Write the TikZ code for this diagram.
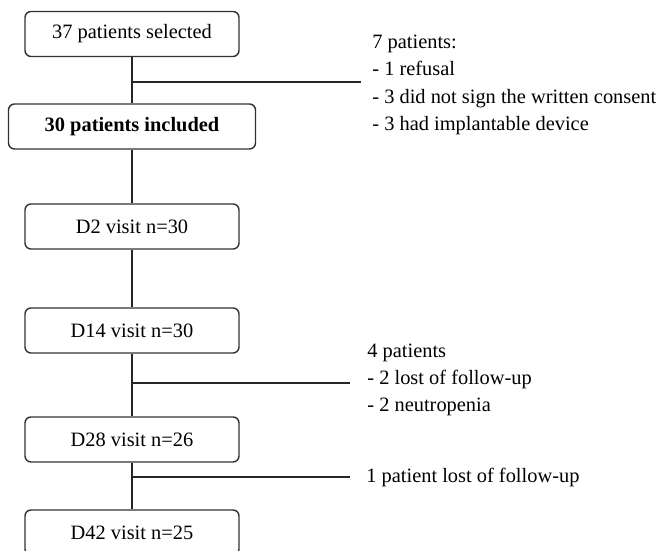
\documentclass[tikz,border=0pt]{standalone}
\usepackage{fontspec}
\setmainfont{Liberation Serif}
\usetikzlibrary{positioning,calc}

\begin{document}
\begin{tikzpicture}[
    x=0.5pt, y=-0.5pt,
    box/.style={rectangle, draw=black!80, line width=0.7pt, rounded corners=3pt, minimum width=107pt, minimum height=22.5pt, font=\fontsize{10.2}{13.5}\selectfont},
    note/.style={inner sep=0pt, anchor=west, align=left, font=\fontsize{10.2}{13.6}\selectfont},
    line/.style={line width=0.65pt, black!85}
]
    \useasboundingbox (0,0) rectangle (666,551);

    \node[box] (selected) at (132,34) {37 patients selected};
    \node[box, minimum width=123.5pt] (included) at (132,126.5) {\bfseries 30 patients included};
    \node[box] (d2) at (132,226.5) {D2 visit n=30};
    \node[box] (d14) at (132,330.5) {D14 visit n=30};
    \node[box] (d28) at (132,439.5) {D28 visit n=26};
    \node[box] (d42) at (132,532.5) {D42 visit n=25};

    \draw[line] (selected) -- (included);
    \draw[line] (included) -- (d2);
    \draw[line] (d2) -- (d14);
    \draw[line] (d14) -- (d28);
    \draw[line] (d28) -- (d42);

    % exclusions
    \coordinate (b1) at (132,82);
    \coordinate (b1end) at (361,82);
    \coordinate (b2) at (132,383);
    \coordinate (b2end) at (350,383);
    \coordinate (b3) at (132,477);
    \coordinate (b3end) at (350,477);
    \draw[line] (b1) -- (b1end);
    \draw[line] (b2) -- (b2end);
    \draw[line] (b3) -- (b3end);

    \node[note] (excluded) at (372,85) {7 patients:\\- 1 refusal\\- 3 did not sign the written consent\\- 3 had implantable device};
    \node[note] (lost14) at (367,380) {4 patients\\- 2 lost of follow-up\\- 2 neutropenia};
    \node[note] (lost28) at (366,477) {1 patient lost of follow-up};
\end{tikzpicture}
\end{document}
